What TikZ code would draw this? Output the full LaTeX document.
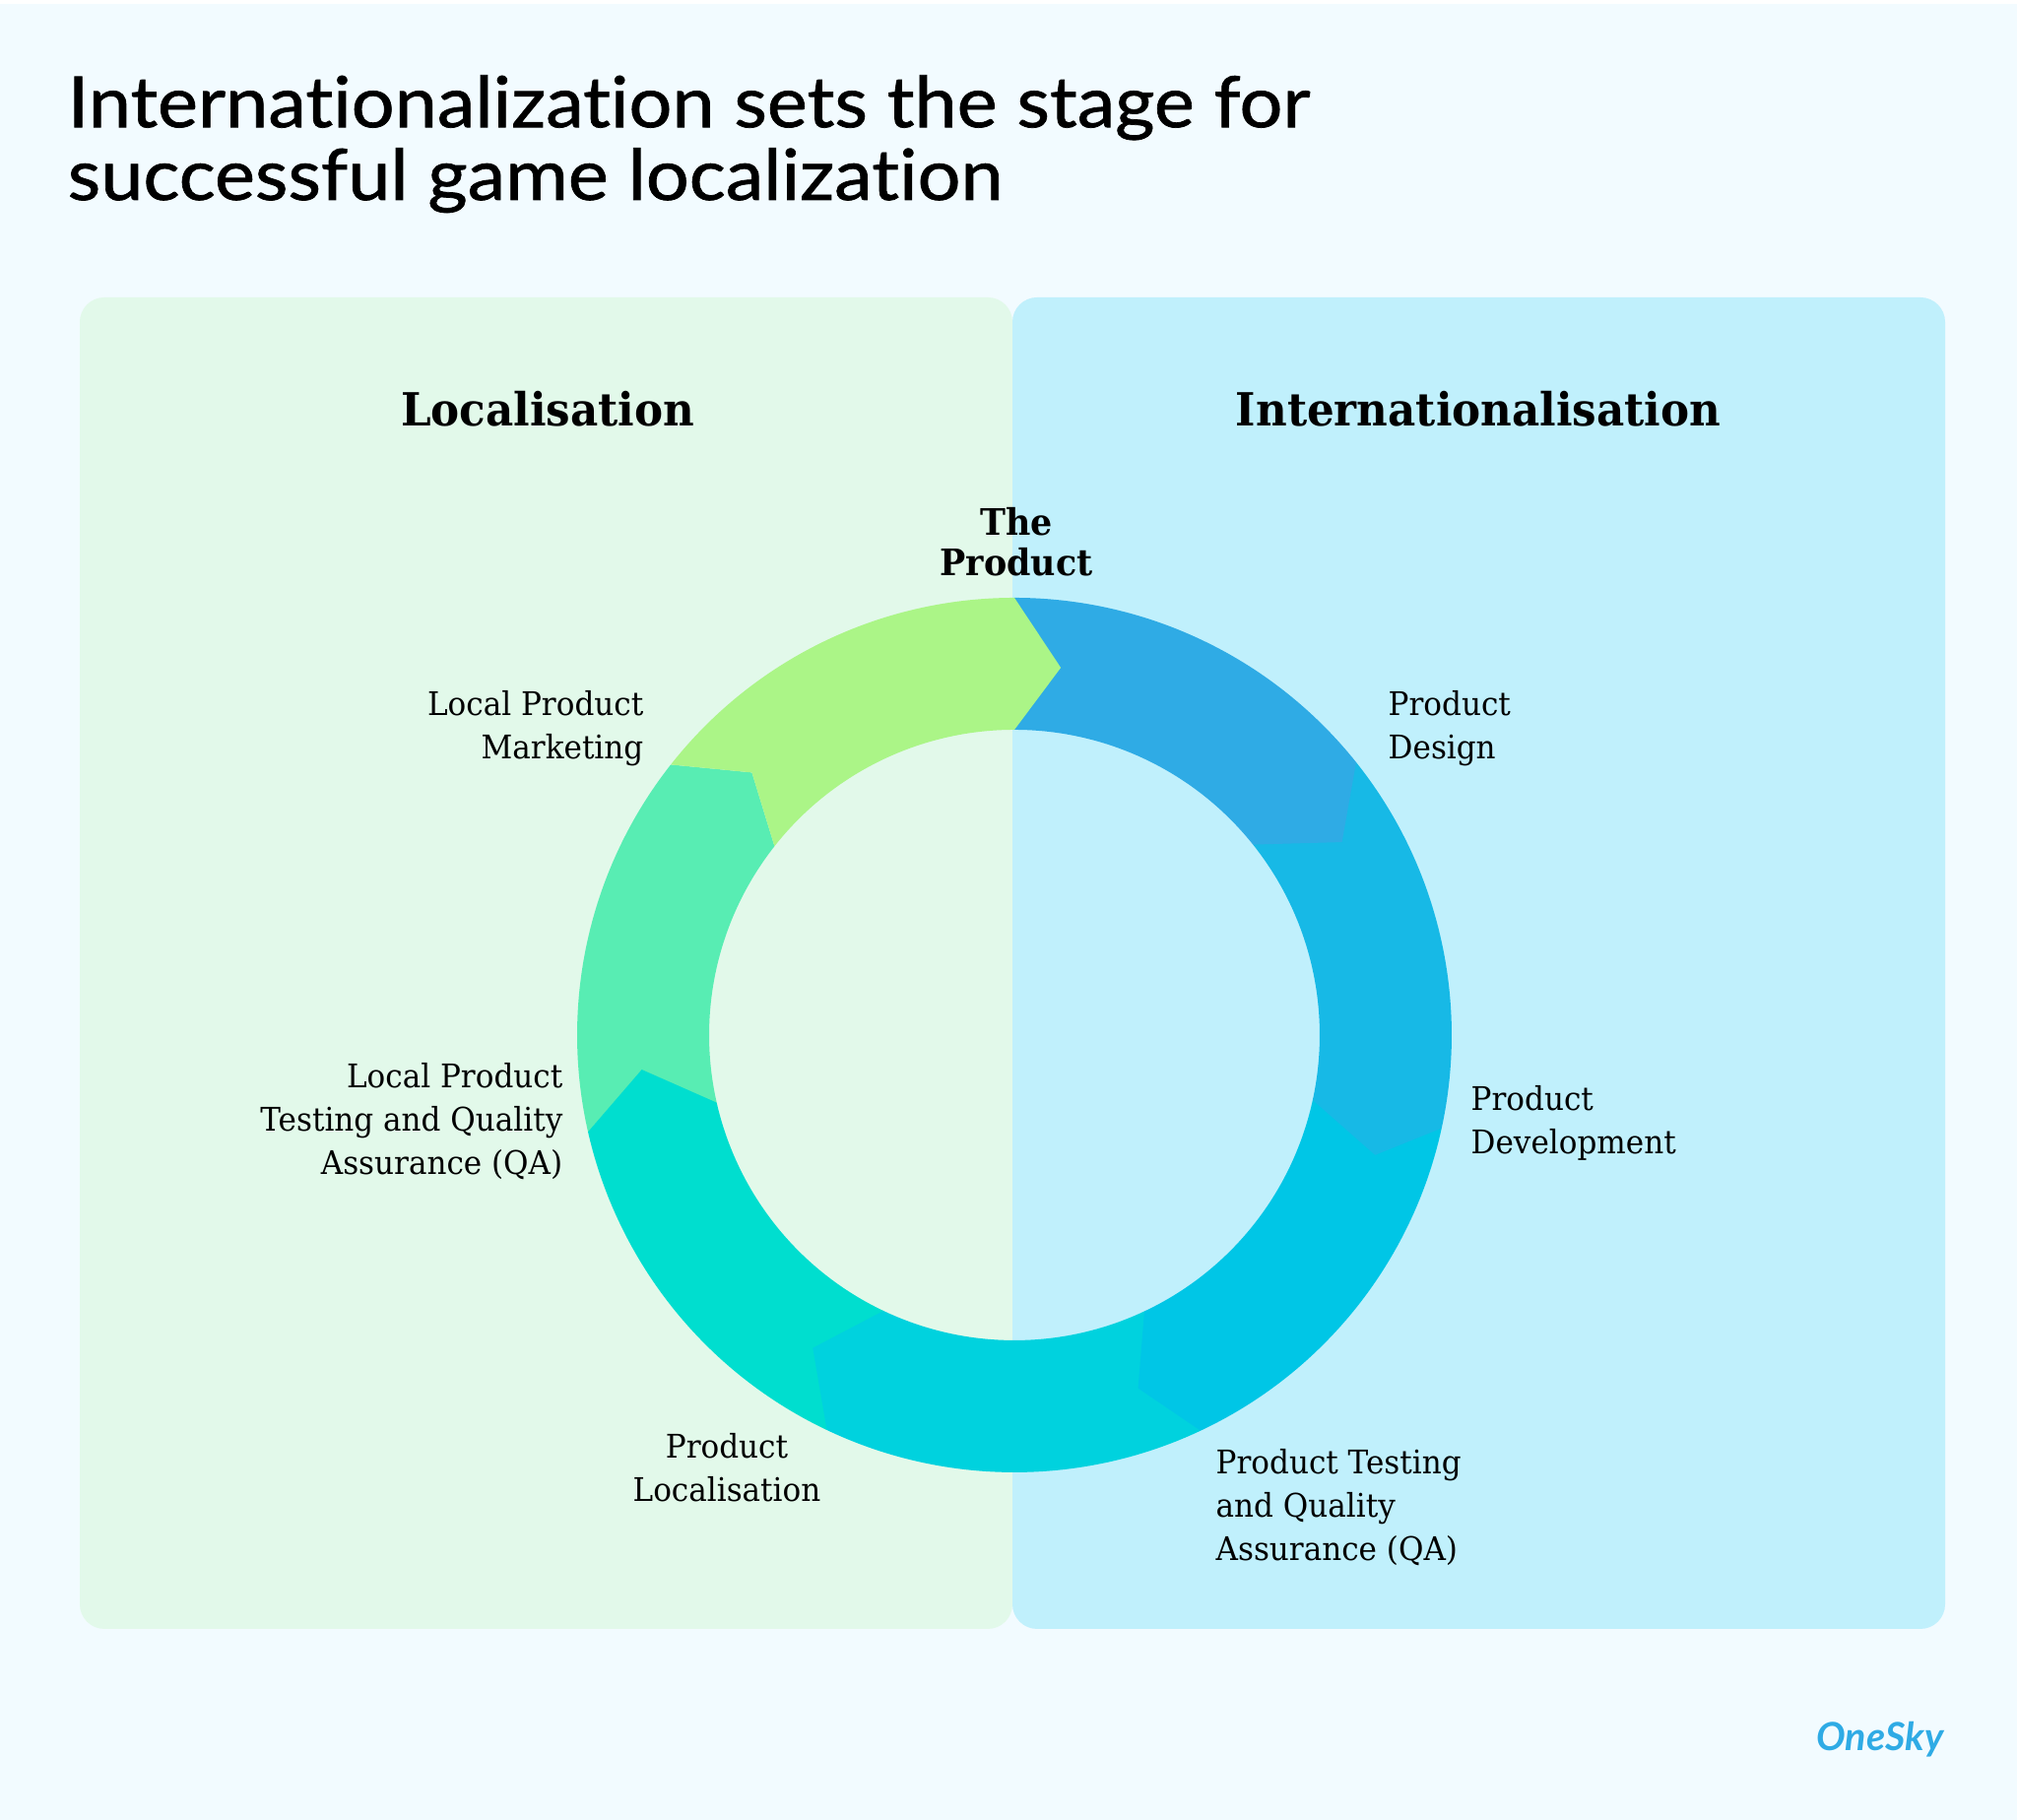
\documentclass[tikz,border=0pt]{standalone}
\usepackage{fontspec}
\setmainfont{DejaVu Serif}
\newfontfamily\judulfont[FakeBold=1,FakeStretch=1.08,Ligatures=NoCommon]{Lato}
\newfontfamily\labelfont[FakeStretch=0.94]{DejaVu Serif}
\newfontfamily\logofont{Lato}
\definecolor{latarps}{HTML}{F2FBFF}
\definecolor{panellok}{HTML}{E2F9EA}
\definecolor{panelint}{HTML}{C0F0FC}
\definecolor{segdesign}{HTML}{2FABE5}
\definecolor{segdev}{HTML}{17B9E6}
\definecolor{segtest}{HTML}{00C6E6}
\definecolor{segbawah}{HTML}{00D2DE}
\definecolor{seglok}{HTML}{00DECF}
\definecolor{segqa}{HTML}{58EDB3}
\definecolor{segmark}{HTML}{ABF587}
\tikzset{
    panjudul/.style={font=\labelfont\bfseries\fontsize{13.2}{16}\selectfont, inner sep=0pt, anchor=base},
    ringlabel/.style={font=\labelfont\fontsize{9.4}{12.6}\selectfont, inner sep=0pt},
}

\begin{document}
\begin{tikzpicture}
    \useasboundingbox (0,0) rectangle (20.48,18.48);
    \fill[white] (0,0) rectangle (20.48,18.48);
    \fill[latarps] (0,0) rectangle (20.48,18.44);
    \fill[panellok, rounded corners=0.25cm] (0.81,1.94) rectangle (10.28,15.46);
    \fill[panelint, rounded corners=0.25cm] (10.28,1.94) rectangle (19.75,15.46);
    \node[font=\judulfont\fontsize{20.4}{21}\selectfont, align=left, inner sep=0pt, anchor=base west] (judul) at (0.68,16.45) {Internationalization sets the stage for\\successful game localization};
    \node[panjudul] (lokal) at (5.56,14.15) {Localisation};
    \node[panjudul] (inter) at (15.01,14.15) {Internationalisation};
    \begin{scope}[shift={(10.30,7.97)}]
        \fill[segqa] (141.8:4.44) arc[start angle=141.8, end angle=192.8, radius=4.44] -- (192.8:3.10) arc[start angle=192.8, end angle=141.8, radius=3.10] -- (135:3.77) -- cycle;
        \fill[seglok] (192.8:4.44) arc[start angle=192.8, end angle=244.6, radius=4.44] -- (244.6:3.10) arc[start angle=244.6, end angle=192.8, radius=3.10] -- (185.3:3.80) -- cycle;
        \fill[segbawah] (244.6:4.44) arc[start angle=244.6, end angle=295.2, radius=4.44] -- (295.2:3.10) arc[start angle=295.2, end angle=244.6, radius=3.10] -- (237.2:3.78) -- cycle;
        \fill[segtest] (295.2:4.44) arc[start angle=295.2, end angle=347.7, radius=4.44] -- (347.7:3.10) arc[start angle=347.7, end angle=295.2, radius=3.10] -- (289.3:3.80) -- cycle;
        \fill[segdev] (347.7:4.44) arc[start angle=347.7, end angle=398.6, radius=4.44] -- (398.6:3.10) arc[start angle=398.6, end angle=347.7, radius=3.10] -- (341.6:3.86) -- cycle;
        \fill[segdesign] (38.6:4.44) arc[start angle=38.6, end angle=90, radius=4.44] -- (90:3.10) arc[start angle=90, end angle=38.6, radius=3.10] -- (30.5:3.86) -- cycle;
        \fill[segmark] (90:4.44) arc[start angle=90, end angle=141.8, radius=4.44] -- (135:3.77) -- (141.8:3.10) arc[start angle=141.8, end angle=90, radius=3.10] -- (82.8:3.76) -- cycle;
    \end{scope}
    \node[font=\labelfont\bfseries\fontsize{10.55}{11.7}\selectfont, align=center, inner sep=0pt, anchor=base] (produk) at (10.32,12.63) {The\\Product};
    \node[ringlabel, align=right, anchor=base east] (mark) at (6.54,10.77) {Local Product\\Marketing};
    \node[ringlabel, align=left, anchor=base west] (design) at (14.09,10.77) {Product\\Design};
    \node[ringlabel, align=left, anchor=base west] (dev) at (14.93,6.76) {Product\\Development};
    \node[ringlabel, align=right, anchor=base east] (qa) at (5.72,6.55) {Local Product\\Testing and Quality\\Assurance (QA)};
    \node[ringlabel, align=center, anchor=base] (lok) at (7.38,3.23) {Product\\Localisation};
    \node[ringlabel, align=left, anchor=base west] (test) at (12.34,2.63) {Product Testing\\and Quality\\Assurance (QA)};
    \node[font=\logofont\bfseries\itshape\fontsize{11.2}{14}\selectfont, text=segdesign, inner sep=0pt, anchor=base] (logo) at (19.09,0.70) {OneSky};
\end{tikzpicture}
\end{document}
